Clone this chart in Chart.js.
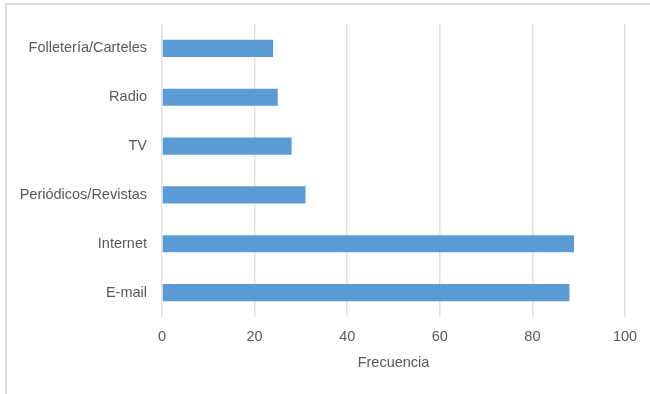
<!DOCTYPE html>
<html>
<head>
<meta charset="utf-8">
<script src="https://cdn.jsdelivr.net/npm/chart.js@4.4.0/dist/chart.umd.min.js"></script>
<style>
    html, body { margin: 0; padding: 0; background: #fff; overflow: hidden; }
    #frame {
        position: absolute; left: 5px; top: 3px;
        width: 680px; height: 420px;
        border: 2px solid #dcdcdc;
    }
    #wrap { position: absolute; left: 0; top: 0; width: 650px; height: 394px; }
</style>
</head>
<body>
<div id="frame"></div>
<div id="wrap"><canvas id="medios"></canvas></div>
<script>
const categorias = [
    'Folletería/Carteles',
    'Radio',
    'TV',
    'Periódicos/Revistas',
    'Internet',
    'E-mail'
]
const frecuencias = [24, 25, 28, 31, 89, 88]
const ticksX = [0, 20, 40, 60, 80, 100]

const gris = '#595959'
const fuente = { family: "'Liberation Sans', Arial, sans-serif", size: 14.5 }

document.addEventListener('DOMContentLoaded', () => {
    createChart(
        document.getElementById('medios').getContext('2d'),
        {
            labels: categorias,
            datasets: [{
                label: 'Frecuencia',
                data: frecuencias,
                backgroundColor: '#5b9bd5',
                barPercentage: 0.35,
                categoryPercentage: 1
            }]
        },
        'bar',
        {
            indexAxis: 'y',
            responsive: true,
            maintainAspectRatio: false,
            animation: false,
            layout: { padding: { top: 24, right: 25, bottom: 22, left: 0 } },
            plugins: {
                legend: { display: false },
                tooltip: { enabled: false }
            },
            scales: {
                x: {
                    min: 0,
                    max: 100,
                    afterBuildTicks: scale => {
                        scale.ticks = ticksX.map(v => ({ value: v }))
                    },
                    grid: { color: '#e3e3e3', lineWidth: 1.5, drawTicks: false },
                    border: { display: false },
                    ticks: { color: gris, font: fuente, padding: 11 },
                    title: {
                        display: true,
                        text: 'Frecuencia',
                        color: gris,
                        font: fuente,
                        padding: { top: 0, bottom: 0 }
                    },
                    // eje de 317 a 372: numeros arriba, titulo abajo
                    afterFit: scale => { scale.height = 55 }
                },
                y: {
                    grid: { display: false, drawTicks: false },
                    border: { display: false },
                    ticks: { color: gris, font: fuente, padding: 15 },
                    afterFit: scale => { scale.width = 162 }
                }
            }
        }
    )
})

function createChart(ctx, data, type, options = {}) {
    new Chart(ctx, {
        type: type,
        data: data,
        options: options
    });
}
</script>
</body>
</html>
